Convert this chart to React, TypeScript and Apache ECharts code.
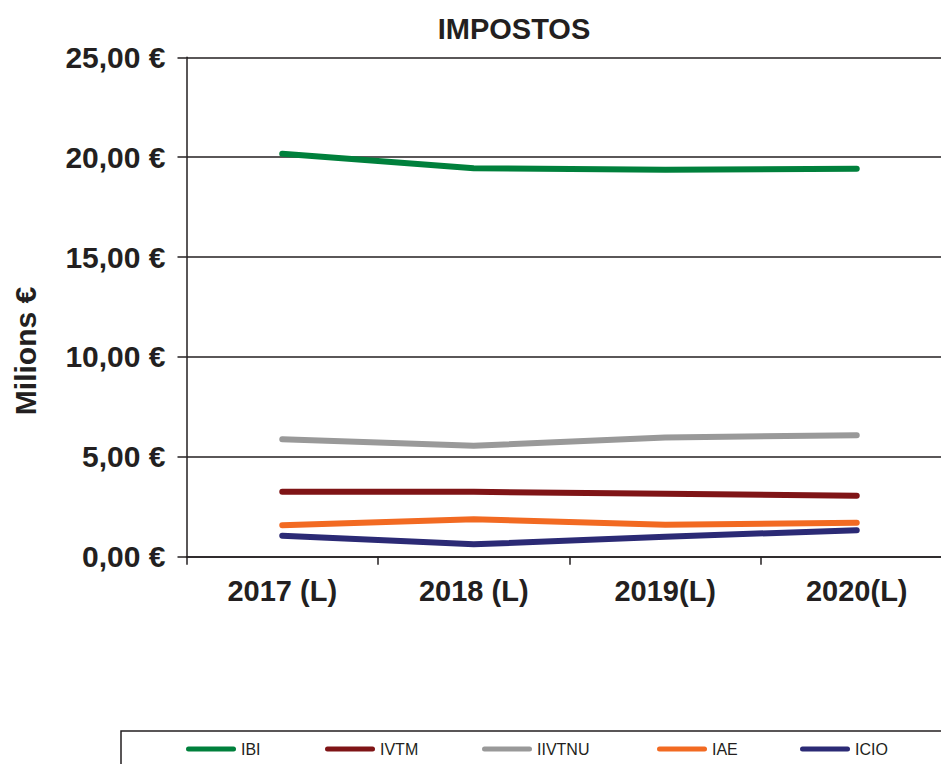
import React, { useEffect, useRef } from "react";
import * as echarts from "echarts";

const categories = ["2017 (L)", "2018 (L)", "2019(L)", "2020(L)"];
const seriesNames = ["IBI", "IVTM", "IIVTNU", "IAE", "ICIO"];
const ibi = [20.17, 19.45, 19.37, 19.42];
const ivtm = [3.25, 3.25, 3.15, 3.05];
const iivtnu = [5.88, 5.55, 5.97, 6.08];
const iae = [1.58, 1.88, 1.6, 1.7];
const icio = [1.05, 0.62, 1.0, 1.33];
const colors = ["#00803c", "#7f1416", "#999999", "#f26a22", "#2b2a75"];
const yMin = 0;
const yMax = 25;
const yStep = 5;

const legendLefts = [186, 325, 482, 657, 800];

const FONT = "'Liberation Sans', Arial, sans-serif";
const INK = "#231f20";

export default function App() {
  const ref = useRef<HTMLDivElement>(null);
  useEffect(() => {
    if (!ref.current) return;
    const chart = echarts.init(ref.current, undefined, { renderer: "svg" });
    const values = [ibi, ivtm, iivtnu, iae, icio];
    chart.setOption({
      animation: false,
      color: colors,
      title: {
        text: "IMPOSTOS",
        left: 509,
        top: 9,
        textAlign: "center",
        textStyle: { fontFamily: FONT, fontWeight: "bold", fontSize: 29, color: INK },
      },
      legend: seriesNames.map((name, i) => ({
        left: legendLefts[i],
        top: 741,
        padding: 0,
        itemWidth: 50,
        itemHeight: 5,
        itemGap: 0,
        icon: "path://M2.5,0 L47.5,0 A2.5,2.5 0 0 1 47.5,5 L2.5,5 A2.5,2.5 0 0 1 2.5,0 Z",
        textStyle: { fontFamily: FONT, fontSize: 16, color: INK },
        data: [name],
      })),
      graphic: [
        {
          type: "text",
          x: 25,
          y: 351,
          rotation: Math.PI / 2,
          style: {
            text: "Milions €",
            fontFamily: FONT,
            fontWeight: "bold",
            fontSize: 30,
            fill: INK,
            textAlign: "center",
            textVerticalAlign: "middle",
          },
        },
        {
          type: "rect",
          shape: { x: 121, y: 731, width: 900, height: 100 },
          style: { fill: "none", stroke: INK, lineWidth: 1.5 },
          silent: true,
        },
      ],
      grid: { left: 186.5, top: 57.3, right: 0.5, bottom: 207.3 },
      xAxis: {
        type: "category",
        data: categories,
        boundaryGap: true,
        axisLine: { lineStyle: { color: INK, width: 1.5 } },
        axisTick: { show: true, length: 8, lineStyle: { color: INK, width: 1.5 } },
        axisLabel: {
          margin: 20,
          fontFamily: FONT,
          fontWeight: "bold",
          fontSize: 29,
          color: INK,
          interval: 0,
        },
      },
      yAxis: {
        type: "value",
        min: yMin,
        max: yMax,
        interval: yStep,
        axisLine: { show: true, lineStyle: { color: INK, width: 1.5 } },
        axisTick: { show: true, length: 9, lineStyle: { color: INK, width: 1.5 } },
        splitLine: { show: true, lineStyle: { color: INK, width: 1.5 } },
        axisLabel: {
          margin: 21,
          fontFamily: FONT,
          fontWeight: "bold",
          fontSize: 30,
          color: INK,
          formatter: (v: number) => v.toFixed(2).replace(".", ",") + " €",
        },
      },
      series: seriesNames.map((name, i) => ({
        name,
        type: "line",
        data: values[i],
        symbol: "none",
        smooth: false,
        lineStyle: { width: 6, color: colors[i], cap: "round", join: "round" },
        itemStyle: { color: colors[i] },
      })),
    });
    return () => chart.dispose();
  }, []);
  return (
    <div
      style={{ position: "absolute", left: 0, top: 0, width: 941, height: 764, overflow: "hidden", background: "#fff" }}
    >
      <div ref={ref} style={{ width: 953, height: 764 }} />
    </div>
  );
}
